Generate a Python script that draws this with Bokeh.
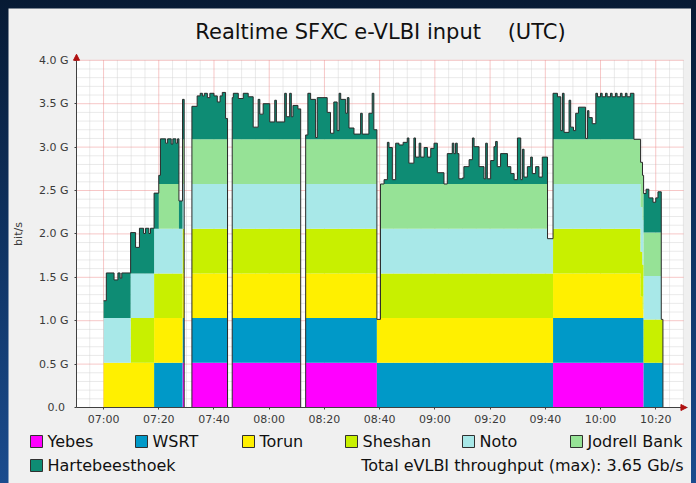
import numpy as np
from bokeh.plotting import figure
from bokeh.models import Range1d, FixedTicker, Arrow, NormalHead, GlobalInlineStyleSheet
from bokeh.embed import file_html
from bokeh.resources import INLINE
from bokeh.core.properties import value

# ---------------- data (minutes after 07:00 UTC, Gb/s; value holds until next breakpoint) ----
YEBES = [(0, 0), (28.6, .515), (29.2, 0), (32.0, .515), (44.9, 0), (46.6, .515), (71.4, 0),
         (73.2, .515), (99.0, 0), (162.8, .515), (195.6, 0)]
WSRT = [(0, 0), (18.3, .515), (29.2, 0), (32.0, .515), (44.9, 0), (46.6, .515), (71.4, 0),
        (73.2, .515), (202.6, 0)]
TORUN = [(0, .515), (29.2, 0), (32.0, .515), (44.9, 0), (46.6, .515), (71.4, 0), (73.2, .515),
         (99.0, .50), (100.3, .515), (194.5, .25), (195.2, .10), (195.6, 0)]
SHESHAN = [(0, 0), (9.8, .515), (29.2, 0), (32.0, .515), (44.9, 0), (46.6, .515), (71.4, 0),
           (73.2, .515), (99.0, 0), (100.3, .515), (195.6, .50), (202.6, 0)]
NOTO = [(0, .515), (29.2, 0), (32.0, .515), (44.9, 0), (46.6, .515), (71.4, 0), (73.2, .515),
        (99.0, 0), (100.3, .515), (160.8, .40), (162.8, .515), (195.6, .50), (202.0, 0)]
JODRELL = [(0, 0), (20.0, .515), (27.3, 0), (28.6, .515), (29.2, 0), (32.0, .515), (44.9, 0),
           (46.6, .515), (71.4, 0), (73.2, .515), (99.0, 0), (100.3, .515), (160.8, 0),
           (162.8, .515), (195.6, .50), (202.0, 0)]
HART = [(0.0, .20), (1.0, .52), (3.8, .44), (5.2, .52), (6.0, .46), (6.6, .52),
        (9.8, .47), (11.6, .30), (13.0, .52), (14.5, .46), (15.2, .52), (16.4, .46), (17.0, .52),
        (18.3, .41), (20.0, .10), (20.6, .52),
        (22.5, .47), (23.2, .52), (24.5, .46), (25.1, .52), (26.2, .47), (26.8, .52),
        (27.3, .32), (28.6, .46), (29.2, 0),
        (32.0, .38), (33.9, .50), (35.0, .53), (35.8, .50), (36.5, .53), (37.6, .48), (38.5, .53),
        (40.0, .50), (41.2, .43), (42.2, .50), (43.0, .54), (44.2, .24), (44.9, 0),
        (46.6, .48), (47.0, .53), (48.8, .47), (50.6, .53), (52.4, .49), (54.2, .14), (56.0, .46),
        (56.6, .29), (57.8, .41), (60.2, .20), (62.0, .45), (62.6, .20), (65.6, .53), (66.2, .26),
        (67.4, .53), (68.0, .26), (68.6, .39), (70.4, .35), (71.4, 0),
        (73.2, .05), (74.0, .53), (75.0, .46), (76.8, .02), (77.4, .48), (81.0, .31), (82.2, .07),
        (83.4, .43), (84.6, .10), (85.3, .53), (85.9, .46), (87.7, .30), (88.3, .48), (88.9, .13),
        (90.7, .06), (93.1, .30), (93.7, .06), (96.1, .30), (97.3, .53), (97.9, .11), (99.0, 0),
        (101.6, .05), (102.8, .48), (103.4, .42), (104.6, .05), (105.8, .47), (107.0, .45),
        (108.5, .48), (110.0, .53), (110.6, .24), (112.4, .53), (113.0, .31), (114.3, .47),
        (114.9, .31), (116.1, .42), (117.3, .31), (118.5, .41), (119.7, .47), (120.9, .13),
        (123.3, .0), (124.5, .35), (126.3, .47), (126.9, .35), (127.5, .47), (128.1, .35),
        (128.7, .06), (130.0, .07), (130.5, .20), (132.4, .28), (133.6, .53), (134.2, .43),
        (136.0, .20), (137.8, .06), (138.4, .47), (139.0, .06), (140.2, .27), (141.4, .43),
        (142.0, .49), (142.6, .20), (143.8, .35), (146.3, .20), (147.5, .12), (148.7, .05),
        (149.9, .53), (151.1, .05), (151.7, .40), (152.3, .08), (153.5, .20), (154.7, .31),
        (155.3, .12), (156.5, .20), (157.7, .08), (158.9, .31), (160.8, 0.0),
        (162.8, .53), (164.4, .49), (165.6, .10), (166.2, .53), (166.8, .08), (168.6, .45),
        (169.2, .14), (170.2, .10), (171.0, .30), (172.0, .37), (174.6, .01), (175.3, .33),
        (175.8, .25), (177.0, .18), (178.3, .53), (178.9, .49), (180.0, .53), (180.6, .49),
        (181.8, .53), (182.4, .49), (183.6, .53), (184.2, .49), (185.4, .53), (186.0, .49),
        (187.2, .53), (187.8, .49), (189.0, .53), (189.6, .49), (190.8, .53), (192.1, 0.0),
        (195.6, .45), (196.5, .50), (197.5, .40), (199.0, .35), (200.0, .40), (200.8, .47),
        (202.0, 0.0)]
END_MIN = 209.5

STATIONS = ["Yebes", "WSRT", "Torun", "Sheshan", "Noto", "Jodrell Bank", "Hartebeesthoek"]
SERIES = [YEBES, WSRT, TORUN, SHESHAN, NOTO, JODRELL, HART]
COLORS = ["#FF00FF", "#0099C8", "#FFF000", "#C8F000", "#A8E8E8", "#96E296", "#0E8C74"]

X_TICKS = [0, 20, 40, 60, 80, 100, 120, 140, 160, 180, 200]
X_LABELS = ["07:00", "07:20", "07:40", "08:00", "08:20", "08:40", "09:00", "09:20", "09:40",
            "10:00", "10:20"]
X_MINOR = list(range(-5, 211, 5))
Y_TICKS = [0.0, 0.5, 1.0, 1.5, 2.0, 2.5, 3.0, 3.5, 4.0]
Y_LABELS = ["0.0\u00a0", "0.5 G", "1.0 G", "1.5 G", "2.0 G", "2.5 G", "3.0 G", "3.5 G", "4.0 G"]
Y_MINOR = [round(0.1 * i, 1) for i in range(1, 41)]
TITLE = "Realtime SFXC e-VLBI input\u00a0\u00a0\u00a0\u00a0(UTC)"
TOTAL_TEXT = "Total eVLBI throughput (max): 3.65 Gb/s"

# ---------------- build step coordinates ----------------
T = np.array(sorted(set([b[0] for s in SERIES for b in s] + [END_MIN])), dtype=float)
starts = T[:-1]


def expand(bps):
    tt = np.array([b[0] for b in bps], dtype=float)
    vv = np.array([b[1] for b in bps], dtype=float)
    idx = np.searchsorted(tt, starts, side="right") - 1
    return np.where(idx >= 0, vv[np.clip(idx, 0, None)], 0.0)


xs = np.repeat(T, 2)[1:-1]
vals = [np.repeat(expand(s), 2) for s in SERIES]

# ---------------- geometry (canvas pixels) ----------------
W, H = 683, 475
PLOT_L, PLOT_R = 68, 679          # canvas x of t=T_L and t=T_R
PLOT_B, PLOT_T = 399, 44          # canvas y of 0 G and of Y_TOP
T_L, T_R = -9.8, 211.5
Y_TOP = 4.09
GRID_END = 210
sx = (PLOT_R - PLOT_L) / (T_R - T_L)
sy = (PLOT_B - PLOT_T) / Y_TOP
XR = Range1d(T_L - PLOT_L / sx, T_L + (W - PLOT_L) / sx)
YR = Range1d(-(H - PLOT_B) / sy, Y_TOP + PLOT_T / sy)

FONT = "DejaVu Sans"
PANEL = "#F0F0F0"

p = figure(width=W, height=H, x_range=XR, y_range=YR, output_backend="svg",
           toolbar_location=None, min_border=0,
           background_fill_color=PANEL, border_fill_color=PANEL, outline_line_color=None)
p.extra_x_ranges = {"px": Range1d(0, W)}
p.extra_y_ranges = {"py": Range1d(H, 0)}
p.grid.visible = False

# plot canvas
p.quad(left=[T_L], right=[GRID_END], bottom=[0], top=[4.0], fill_color="#FFFFFF",
       line_color=None)
# grid
vmin = [t for t in X_MINOR if t not in X_TICKS]
hmin = [v for v in Y_MINOR if v not in Y_TICKS]
p.segment(x0=vmin, y0=[0] * len(vmin), x1=vmin, y1=[4.0] * len(vmin),
          line_color="#D4D4D4", line_dash="1 1", line_width=1)
p.segment(x0=[T_L] * len(hmin), y0=hmin, x1=[GRID_END] * len(hmin), y1=hmin,
          line_color="#D4D4D4", line_dash="1 1", line_width=1)
p.segment(x0=X_TICKS, y0=[0] * len(X_TICKS), x1=X_TICKS, y1=[4.0] * len(X_TICKS),
          line_color="#EE8F8F", line_dash="1 1", line_width=1)
p.segment(x0=[T_L] * (len(Y_TICKS) - 1), y0=Y_TICKS[1:], x1=[GRID_END] * (len(Y_TICKS) - 1),
          y1=Y_TICKS[1:], line_color="#EE8F8F", line_dash="1 1", line_width=1)

# stacked areas
lower = np.zeros_like(xs)
for v, c in zip(vals, COLORS):
    upper = lower + v
    p.varea(x=xs, y1=lower, y2=upper, fill_color=c)
    lower = upper
p.line(x=xs, y=lower, line_color="#2a2a2a", line_width=1)

# axes
p.xaxis.ticker = FixedTicker(ticks=X_TICKS, minor_ticks=[])
p.yaxis.ticker = FixedTicker(ticks=Y_TICKS, minor_ticks=[])
p.xaxis.major_label_overrides = dict(zip(X_TICKS, X_LABELS))
p.yaxis.major_label_overrides = dict(zip(Y_TICKS, Y_LABELS))
p.xaxis.fixed_location = 0
p.yaxis.fixed_location = T_L
p.xaxis.bounds = (T_L, T_R)
p.yaxis.bounds = (0, 4.0)
for ax in (p.xaxis, p.yaxis):
    ax.axis_line_color = "#404040"
    ax.major_tick_line_color = "#404040"
    ax.major_tick_in = 0
    ax.major_tick_out = 2
    ax.minor_tick_in = 0
    ax.minor_tick_out = 0
    ax.major_label_text_font = FONT
    ax.major_label_text_font_size = "11px"
    ax.major_label_text_color = "#3a3a3a"
p.xaxis.major_label_standoff = 3
p.yaxis.major_label_standoff = 6
p.yaxis.axis_label = "bit/s"
p.yaxis.axis_label_text_font = FONT
p.yaxis.axis_label_text_font_size = "11px"
p.yaxis.axis_label_text_font_style = "normal"
p.yaxis.axis_label_text_color = "#3a3a3a"
p.yaxis.axis_label_standoff = 11

head_c = "#B01010"
p.add_layout(Arrow(end=NormalHead(size=6, fill_color=head_c, line_color=head_c),
                   x_start=T_L, y_start=3.9, x_end=T_L, y_end=4.07, line_alpha=0))
p.add_layout(Arrow(end=NormalHead(size=6, fill_color=head_c, line_color=head_c),
                   x_start=T_R - 4, y_start=0, x_end=T_R - 0.2, y_end=0, line_alpha=0))

# title
p.text(x=[372], y=[23], text=[TITLE], x_range_name="px", y_range_name="py",
       text_align="center", text_baseline="middle", text_font=value(FONT),
       text_font_size="21px", text_color="#111111")

# legend (canvas pixel positions)
LEG_X = [22, 127, 234, 337, 454, 562, 22]
LEG_Y = [433, 433, 433, 433, 433, 433, 457]
SQ = 12
LEG_FONT_SIZE = "16px"
p.rect(x=[x + SQ / 2 for x in LEG_X], y=LEG_Y, width=SQ, height=SQ,
       width_units="screen", height_units="screen", x_range_name="px", y_range_name="py",
       fill_color=COLORS, line_color="#303030", line_width=1)
p.text(x=[x + SQ + 5 for x in LEG_X], y=LEG_Y, text=STATIONS, x_range_name="px",
       y_range_name="py", text_baseline="middle", text_font=value(FONT),
       text_font_size=LEG_FONT_SIZE, text_color="#111111")
p.text(x=[675], y=[457], text=[TOTAL_TEXT], x_range_name="px", y_range_name="py",
       text_align="right", text_baseline="middle", text_font=value(FONT),
       text_font_size=LEG_FONT_SIZE, text_color="#111111")

p.stylesheets = [GlobalInlineStyleSheet(css="html, body {background: linear-gradient(180deg, #071a34 0%, #103566 55%, #1b4c8e 100%) !important; overflow: hidden;} body {padding: 8px !important;}")]

open("out.html", "w").write(file_html(p, INLINE))
